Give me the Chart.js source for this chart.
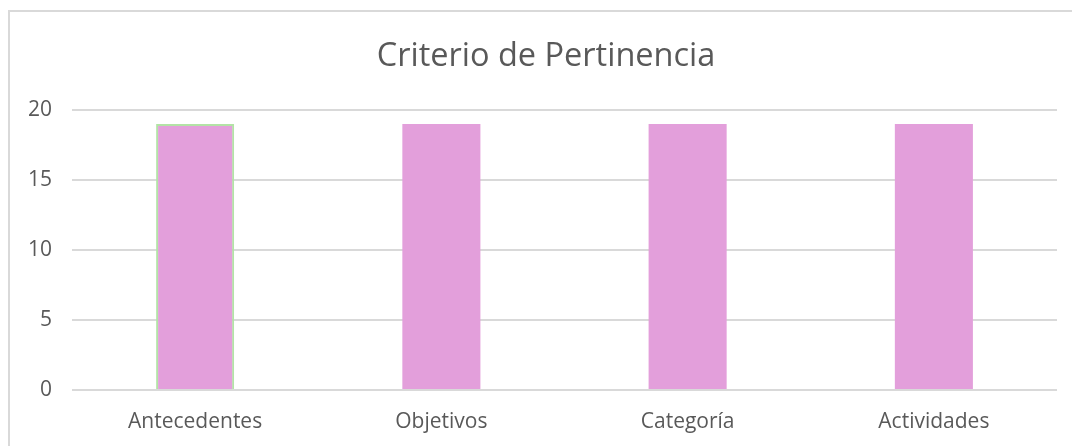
<!DOCTYPE html>
<html>
<head>
<meta charset="utf-8">
<script src="https://cdn.jsdelivr.net/npm/chart.js@4.4.1/dist/chart.umd.min.js"></script>
<style>
  html, body { margin: 0; padding: 0; background: #fff; overflow: hidden; }
  canvas { display: block; }
</style>
</head>
<body>
<canvas id="c" width="1072" height="446"></canvas>
<script>
const categories = ["Antecedentes", "Objetivos", "Categoría", "Actividades"];
const values = [19, 19, 19, 19];
const titleText = "Criterio de Pertinencia";
const yMax = 20;
const yStep = 5;

const textColor = "#595959";
const fontFamily = "'Open Sans', 'Noto Sans', sans-serif";

// Chart frame (left and top edges of the chart box) and title centred on the full chart box
const framePlugin = {
  id: "frame",
  beforeDraw(chart) {
    const ctx = chart.ctx;
    ctx.save();
    ctx.strokeStyle = "#d9d9d9";
    ctx.lineWidth = 2;
    ctx.beginPath();
    ctx.moveTo(9, chart.height + 5);
    ctx.lineTo(9, 11);
    ctx.lineTo(chart.width + 5, 11);
    ctx.stroke();
    ctx.fillStyle = textColor;
    ctx.font = "32.5px " + fontFamily;
    ctx.textAlign = "center";
    ctx.textBaseline = "middle";
    ctx.fillText(titleText, 546, 57);
    ctx.restore();
  }
};

new Chart(document.getElementById("c"), {
  type: "bar",
  data: {
    labels: categories,
    datasets: [{
      data: values,
      backgroundColor: "#e39fdb",
      borderColor: ["#b3e3a6", "rgba(0,0,0,0)", "rgba(0,0,0,0)", "rgba(0,0,0,0)"],
      borderWidth: [2, 0, 0, 0],
      categoryPercentage: 1,
      barPercentage: 0.317
    }]
  },
  plugins: [framePlugin],
  options: {
    responsive: false,
    animation: false,
    devicePixelRatio: 1,
    layout: { padding: { left: 0, right: 15, top: 110, bottom: 0 } },
    plugins: {
      legend: { display: false },
      tooltip: { enabled: false },
      title: { display: false }
    },
    scales: {
      x: {
        grid: { display: false },
        border: { display: false },
        ticks: { color: textColor, font: { family: fontFamily, size: 21 }, padding: 11, maxRotation: 0 },
        afterFit: (axis) => { axis.height = 56; }
      },
      y: {
        min: 0,
        max: yMax,
        grid: { color: "#d9d9d9", lineWidth: 2, drawTicks: false },
        border: { display: false },
        ticks: { stepSize: yStep, color: textColor, font: { family: fontFamily, size: 21 }, padding: 20 },
        afterFit: (axis) => { axis.width = 72; }
      }
    }
  }
});
</script>
</body>
</html>
